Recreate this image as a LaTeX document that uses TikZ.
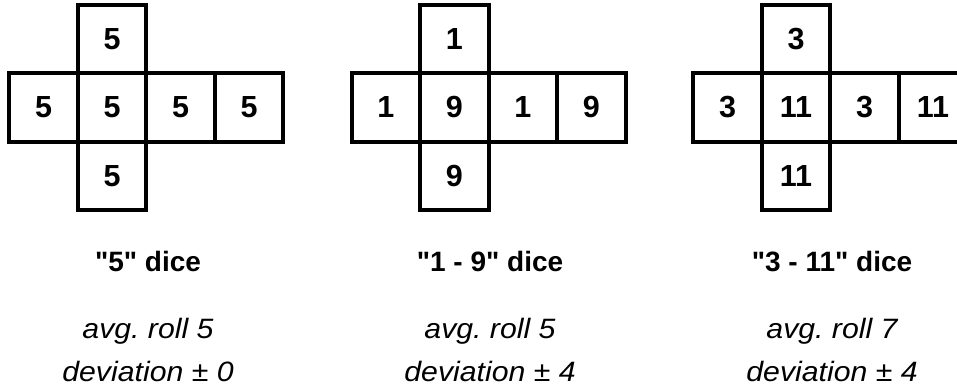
\documentclass[tikz,border=0pt]{standalone}
\usepackage{fontspec}
\setmainfont{Liberation Sans}
\newfontfamily\titlefont{Liberation Sans}[Ligatures=TeXOff]
\newfontfamily\wideit{Liberation Sans}[FakeStretch=1.08]
\frenchspacing
\tikzset{
  face/.style={draw=black, line width=4pt, minimum size=68.5pt, inner sep=0pt, outer sep=0pt,
    font=\fontsize{30.5}{31}\selectfont\bfseries},
  titletext/.style={anchor=base, inner sep=0pt, font=\titlefont\fontsize{28}{30}\selectfont\bfseries},
  infotext/.style={anchor=base, inner sep=0pt, font=\wideit\fontsize{28}{30}\selectfont\itshape},
}
% #1 prefix, #2 left x, #3 top, #4 left, #5 centre, #6 right, #7 far right, #8 bottom
\newcommand\dienet[8]{%
  \node[face] (#1l) at (#2+34.25,107.5) {#4};
  \node[face] (#1c) at (#2+102.75,107.5) {#5};
  \node[face] (#1r) at (#2+171.25,107.5) {#6};
  \node[face] (#1f) at (#2+239.75,107.5) {#7};
  \node[face] (#1t) at (#2+102.75,39) {#3};
  \node[face] (#1b) at (#2+102.75,176) {#8};
}
\begin{document}
\begin{tikzpicture}[x=1pt,y=-1pt]
\useasboundingbox (0,0) rectangle (957,387);
\dienet{a}{9.3}{5}{5}{5}{5}{5}{5}
\dienet{b}{351.7}{1}{1}{9}{1}{9}{9}
\dienet{c}{693.3}{3}{3}{11}{3}{11}{11}
\node[titletext] (at1) at (148,271.5) {"5" dice};
\node[titletext] (bt1) at (490,271.5) {"1 - 9" dice};
\node[titletext] (ct1) at (832,271.5) {"3 - 11" dice};
\node[infotext] (at2) at (148,338) {avg. roll 5};
\node[infotext] (bt2) at (490,338) {avg. roll 5};
\node[infotext] (ct2) at (832,338) {avg. roll 7};
\node[infotext] (at3) at (148,381) {deviation \char"00B1{} 0};
\node[infotext] (bt3) at (490,381) {deviation \char"00B1{} 4};
\node[infotext] (ct3) at (832,381) {deviation \char"00B1{} 4};
\end{tikzpicture}
\end{document}
